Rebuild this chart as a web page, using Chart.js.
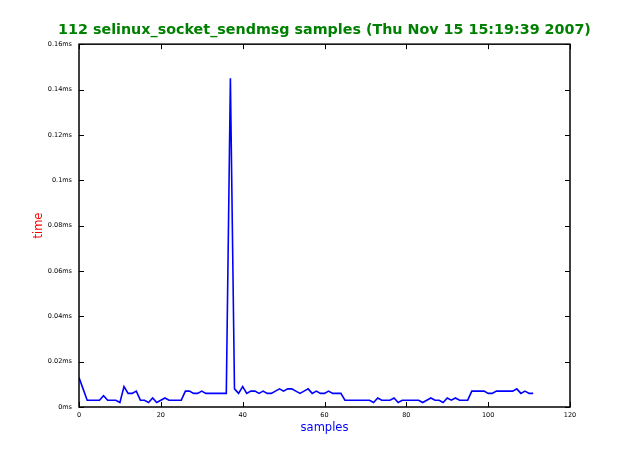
<!DOCTYPE html>
<html>
<head>
<meta charset="utf-8">
<script src="https://cdn.jsdelivr.net/npm/chart.js@4.4.0/dist/chart.umd.min.js"></script>
<style>
  html, body { margin: 0; padding: 0; background: #fff; }
  canvas { display: block; }
</style>
</head>
<body>
<canvas id="chart" width="633" height="453"></canvas>
<script>
// sample times in ms, one per sample (index = sample number)
const sampleTimes = [
  0.013, 0.008, 0.003, 0.003, 0.003, 0.003, 0.005, 0.003, 0.003, 0.003,
  0.002, 0.009, 0.006, 0.006, 0.007, 0.003, 0.003, 0.002, 0.004, 0.002,
  0.003, 0.004, 0.003, 0.003, 0.003, 0.003, 0.007, 0.007, 0.006, 0.006,
  0.007, 0.006, 0.006, 0.006, 0.006, 0.006, 0.006, 0.145, 0.008, 0.006,
  0.009, 0.006, 0.007, 0.007, 0.006, 0.007, 0.006, 0.006, 0.007, 0.008,
  0.007, 0.008, 0.008, 0.007, 0.006, 0.007, 0.008, 0.006, 0.007, 0.006,
  0.006, 0.007, 0.006, 0.006, 0.006, 0.003, 0.003, 0.003, 0.003, 0.003,
  0.003, 0.003, 0.002, 0.004, 0.003, 0.003, 0.003, 0.004, 0.002, 0.003,
  0.003, 0.003, 0.003, 0.003, 0.002, 0.003, 0.004, 0.003, 0.003, 0.002,
  0.004, 0.003, 0.004, 0.003, 0.003, 0.003, 0.007, 0.007, 0.007, 0.007,
  0.006, 0.006, 0.007, 0.007, 0.007, 0.007, 0.007, 0.008, 0.006, 0.007,
  0.006, 0.006,
];

const xTicks = [0, 20, 40, 60, 80, 100, 120];
const yTicks = [0, 0.02, 0.04, 0.06, 0.08, 0.1, 0.12, 0.14, 0.16];

const titleText = "112 selinux_socket_sendmsg samples (Thu Nov 15 15:19:39 2007)";
const fontFamily = "'DejaVu Sans', sans-serif";

function formatMs(v) {
  return parseFloat(v.toFixed(3)) + "ms";
}

// matplotlib-like frame with ticks pointing inward
const framePlugin = {
  id: "frame",
  afterDatasetsDraw(chart) {
    const { ctx, chartArea: a, scales } = chart;
    const len = 5;
    ctx.save();
    ctx.strokeStyle = "#000";
    ctx.lineWidth = 1;
    ctx.beginPath();
    xTicks.forEach((t) => {
      const px = Math.round(scales.x.getPixelForValue(t)) + 0.5;
      ctx.moveTo(px, a.bottom);
      ctx.lineTo(px, a.bottom - len);
      ctx.moveTo(px, a.top);
      ctx.lineTo(px, a.top + len);
    });
    yTicks.forEach((t) => {
      const py = Math.round(scales.y.getPixelForValue(t)) + 0.5;
      ctx.moveTo(a.left, py);
      ctx.lineTo(a.left + len, py);
      ctx.moveTo(a.right, py);
      ctx.lineTo(a.right - len, py);
    });
    ctx.stroke();
    ctx.lineWidth = 1.5;
    ctx.strokeRect(a.left, a.top, a.right - a.left, a.bottom - a.top);
    ctx.restore();
  },
};

new Chart(document.getElementById("chart"), {
  type: "line",
  data: {
    datasets: [
      {
        label: "time",
        data: sampleTimes.map((v, i) => ({ x: i, y: v })),
        borderColor: "#0000ff",
        borderWidth: 1.6,
        pointRadius: 0,
        tension: 0,
        fill: false,
      },
    ],
  },
  options: {
    responsive: false,
    animation: false,
    // left padding keeps the title centred over the plot area
    layout: { padding: { left: 16, right: 0, top: 0, bottom: 0 } },
    plugins: {
      legend: { display: false },
      tooltip: { enabled: false },
      title: {
        display: true,
        text: titleText,
        color: "#008000",
        font: { family: fontFamily, size: 14.3, weight: "bold", lineHeight: 1.2 },
        padding: { top: 22, bottom: 5 },
      },
    },
    scales: {
      x: {
        type: "linear",
        min: 0,
        max: 120,
        afterBuildTicks: (s) => { s.ticks = xTicks.map((v) => ({ value: v })); },
        afterFit: (s) => { s.height = 46; },
        grid: { display: false, drawTicks: false },
        border: { display: false },
        ticks: {
          color: "#000",
          padding: 4,
          maxRotation: 0,
          font: { family: fontFamily, size: 6.5 },
        },
        title: {
          display: true,
          text: "samples",
          color: "#0000ff",
          font: { family: fontFamily, size: 11.5, lineHeight: 1.2 },
          padding: { top: 0, bottom: 18 },
        },
      },
      y: {
        min: 0,
        max: 0.16,
        afterBuildTicks: (s) => { s.ticks = yTicks.map((v) => ({ value: v })); },
        afterFit: (s) => { s.width = 63; },
        grid: { display: false, drawTicks: false },
        border: { display: false },
        ticks: {
          color: "#000",
          padding: 7,
          font: { family: fontFamily, size: 6.5 },
          callback: (v) => formatMs(v),
        },
        title: {
          display: true,
          text: "time",
          color: "#ff0000",
          font: { family: fontFamily, size: 11.5, lineHeight: 1.2 },
          padding: { top: 16, bottom: 0 },
        },
      },
      // empty right-hand strip so the frame ends where the reference does
      yRight: {
        position: "right",
        min: 0,
        max: 0.16,
        afterFit: (s) => { s.width = 63; },
        grid: { display: false, drawTicks: false },
        border: { display: false },
        ticks: { display: false },
      },
    },
  },
  plugins: [framePlugin],
});
</script>
</body>
</html>
